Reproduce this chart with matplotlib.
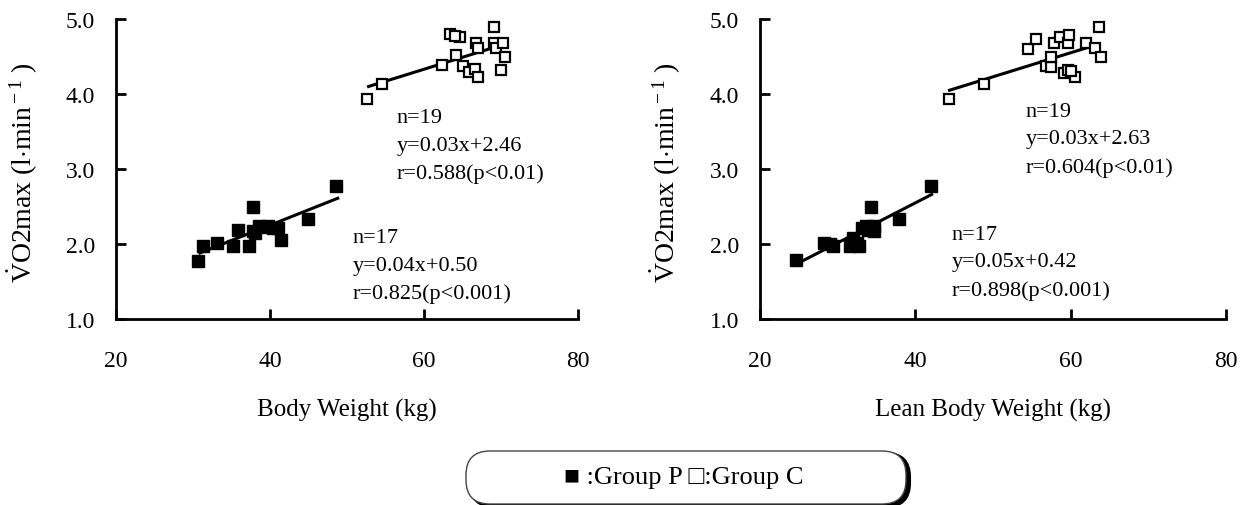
import matplotlib
matplotlib.use("Agg")
import matplotlib.pyplot as plt
from matplotlib.patches import FancyBboxPatch

plt.rcParams['font.family'] = ['Liberation Serif', 'DejaVu Serif']
plt.rcParams['mathtext.fontset'] = 'custom'
plt.rcParams['mathtext.rm'] = 'Liberation Serif'
plt.rcParams['mathtext.it'] = 'Liberation Serif:italic'

# ---- data: left panel (Body Weight) ----
bw_p_x = [30.7, 31.3, 33.1, 35.2, 35.9, 37.3, 37.8, 37.8, 38.6, 39.8, 40.4, 41.1, 41.4, 44.9, 48.6, 39.2, 38.1]
bw_p_y = [1.78, 1.98, 2.01, 1.97, 2.19, 1.97, 2.49, 2.17, 2.24, 2.24, 2.21, 2.21, 2.05, 2.34, 2.78, 2.22, 2.15]
bw_c_x = [52.6, 54.6, 62.4, 63.4, 64.7, 64.2, 65.0, 65.8, 66.6, 67.0, 66.8, 67.0, 69.1, 69.1, 69.4, 70.3, 70.5, 70.0, 64.0]
bw_c_y = [3.94, 4.14, 4.39, 4.80, 4.76, 4.52, 4.37, 4.30, 4.34, 4.23, 4.68, 4.61, 4.90, 4.68, 4.62, 4.68, 4.50, 4.32, 4.78]
bw_p_fit_x = [30.9, 48.8]
bw_p_fit_y = [1.88, 2.61]
bw_c_fit_x = [52.8, 69.7]
bw_c_fit_y = [4.10, 4.64]

# ---- data: right panel (Lean Body Weight) ----
lbw_p_x = [24.6, 28.2, 29.4, 31.6, 32.8, 32.0, 33.1, 33.7, 34.3, 34.7, 34.7, 37.9, 42.0, 31.8, 33.9, 29.0, 32.5]
lbw_p_y = [1.79, 2.02, 1.98, 1.98, 1.98, 2.08, 2.21, 2.24, 2.50, 2.18, 2.24, 2.34, 2.78, 2.01, 2.19, 2.00, 2.02]
lbw_c_x = [44.3, 48.9, 54.5, 55.5, 56.8, 57.5, 57.5, 57.9, 58.6, 59.1, 59.6, 59.6, 59.8, 60.5, 60.1, 62.0, 63.1, 63.6, 63.9]
lbw_c_y = [3.93, 4.13, 4.60, 4.74, 4.38, 4.36, 4.50, 4.68, 4.76, 4.28, 4.32, 4.68, 4.79, 4.23, 4.31, 4.68, 4.62, 4.89, 4.50]
lbw_p_fit_x = [25.2, 42.1]
lbw_p_fit_y = [1.76, 2.66]
lbw_c_fit_x = [44.4, 62.5]
lbw_c_fit_y = [4.05, 4.63]

xticks = [20, 40, 60, 80]
yticks = [1.0, 2.0, 3.0, 4.0, 5.0]
ytick_labels = ["1.0", "2.0", "3.0", "4.0", "5.0"]

left_c_text = ["n=19", "y=0.03x+2.46", "r=0.588(p<0.01)"]
left_p_text = ["n=17", "y=0.04x+0.50", "r=0.825(p<0.001)"]
right_c_text = ["n=19", "y=0.03x+2.63", "r=0.604(p<0.01)"]
right_p_text = ["n=17", "y=0.05x+0.42", "r=0.898(p<0.001)"]
legend_text = "\u25a0 :Group P \u25a1:Group C"

W, H = 1247, 506
fig = plt.figure(figsize=(W / 100, H / 100), dpi=100)

fs = 16
ylabel = r'$\dot{\rm V}$O2max (l$\cdot$min$^{\rm -1}$ )'

def make_axes(rect, px, py, cx, cy, pfx, pfy, cfx, cfy, xlabel, ctext, cpos, ptext, ppos):
    ax = fig.add_axes(rect)
    ax.plot(pfx, pfy, color='black', lw=2.2, zorder=2)
    ax.plot(cfx, cfy, color='black', lw=2.2, zorder=2)
    ax.plot(px, py, 's', ms=8, mfc='black', mec='black', mew=1, ls='none', zorder=3)
    ax.plot(cx, cy, 's', ms=7.5, mfc='white', mec='black', mew=1.6, ls='none', zorder=3)
    ax.set_xlim(20, 80)
    ax.set_ylim(1.0, 5.0)
    ax.set_xticks(xticks)
    ax.set_xticklabels([str(t) for t in xticks])
    ax.set_yticks(yticks)
    ax.set_yticklabels(ytick_labels)
    for s in ['top', 'right']:
        ax.spines[s].set_visible(False)
    for s in ['left', 'bottom']:
        ax.spines[s].set_linewidth(2)
    ax.tick_params(direction='in', length=7, width=2, labelsize=17)
    ax.tick_params(axis='x', pad=22)
    ax.tick_params(axis='y', pad=15)
    ax.set_xlabel(xlabel, fontsize=18, labelpad=20)
    ax.set_ylabel(ylabel, fontsize=20)
    ax.yaxis.set_label_coords(-0.165, 0.49)
    for i, t in enumerate(ctext):
        ax.text(cpos[0], cpos[1] - i * 0.37, t, fontsize=fs, va='center', ha='left')
    for i, t in enumerate(ptext):
        ax.text(ppos[0], ppos[1] - i * 0.37, t, fontsize=fs, va='center', ha='left')
    return ax

make_axes([116 / W, 1 - 320 / H, 462 / W, 300 / H],
          bw_p_x, bw_p_y, bw_c_x, bw_c_y, bw_p_fit_x, bw_p_fit_y, bw_c_fit_x, bw_c_fit_y,
          "Body Weight (kg)", left_c_text, (56.4, 3.68), left_p_text, (50.7, 2.09))
make_axes([760 / W, 1 - 320 / H, 466 / W, 300 / H],
          lbw_p_x, lbw_p_y, lbw_c_x, lbw_c_y, lbw_p_fit_x, lbw_p_fit_y, lbw_c_fit_x, lbw_c_fit_y,
          "Lean Body Weight (kg)", right_c_text, (54.2, 3.77), right_p_text, (44.7, 2.13))

# overlay in pixel coordinates for the legend box
ov = fig.add_axes([0, 0, 1, 1])
ov.set_xlim(0, W)
ov.set_ylim(H, 0)
ov.axis('off')
shadow = FancyBboxPatch((470, 454), 440, 54, boxstyle="round,pad=0,rounding_size=24",
                        fc='black', ec='black', lw=1.5)
ov.add_patch(shadow)
box = FancyBboxPatch((466, 452), 440, 53, boxstyle="round,pad=0,rounding_size=24",
                     fc='white', ec='#444444', lw=1.0)
ov.add_patch(box)
ov.text(684, 478, legend_text, fontsize=19, ha='center', va='center',
        family=['Liberation Serif', 'DejaVu Sans'])

fig.savefig("out.png", dpi=100)
